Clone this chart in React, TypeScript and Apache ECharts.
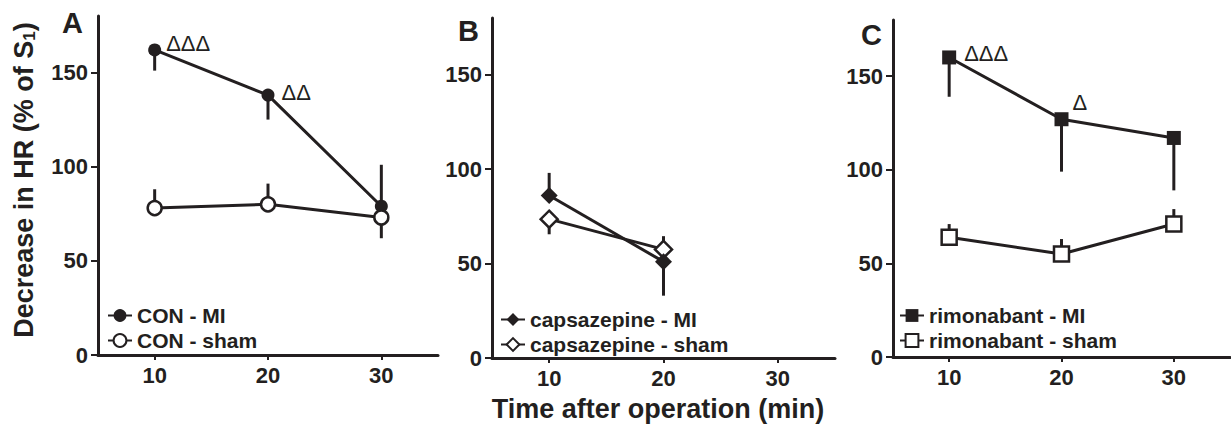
import React, { useEffect, useRef } from 'react';
import * as echarts from 'echarts';

// ---- data ----
const timePoints = [10, 20, 30];
const timePointsB = [10, 20];
const yTicks = [0, 50, 100, 150];
const xTicks = [10, 20, 30];

const conMI = [162, 138, 79];
const conMIErr = [11, 13, 22];
const conMIDir = [-1, -1, 1];
const conSham = [78, 80, 73];
const conShamErr = [10, 11, 11];
const conShamDir = [1, 1, -1];

const capMI = [86, 51];
const capMIErr = [12, 18];
const capMIDir = [1, -1];
const capSham = [73.5, 57.5];
const capShamErr = [8, 7];
const capShamDir = [-1, 1];

const rimMI = [160, 127, 117];
const rimMIErr = [21, 28, 28];
const rimMIDir = [-1, -1, -1];
const rimSham = [64, 55, 71];
const rimShamErr = [7, 8, 8];
const rimShamDir = [1, 1, 1];

const conMINotes = ['ΔΔΔ', 'ΔΔ', ''];
const rimMINotes = ['ΔΔΔ', 'Δ', ''];

const names = {
  conMI: 'CON - MI',
  conSham: 'CON - sham',
  capMI: 'capsazepine - MI',
  capSham: 'capsazepine - sham',
  rimMI: 'rimonabant - MI',
  rimSham: 'rimonabant - sham',
};

// ---- styling ----
const INK = '#231f20';
const FONT = '"Liberation Sans", Arial, sans-serif';
const conNoteOffsets: number[][] = [[0, -6], [2, -3], [0, 0]];
const rimNoteOffsets: number[][] = [[3, -4], [-1, -17], [0, 0]];

function lineSeries(
  name: string,
  xs: number[],
  ys: number[],
  idx: number,
  symbol: string,
  size: number,
  filled: boolean,
  notes?: string[],
  offsets?: number[][]
) {
  return {
    type: 'line',
    name,
    xAxisIndex: idx,
    yAxisIndex: idx,
    z: 3,
    symbol,
    symbolSize: size,
    showAllSymbol: true,
    lineStyle: { color: INK, width: 3 },
    itemStyle: filled
      ? { color: INK, borderColor: INK, borderWidth: 0 }
      : { color: '#ffffff', borderColor: INK, borderWidth: 2.5 },
    data: ys.map((v, i) => ({
      value: [xs[i], v],
      label:
        notes && notes[i]
          ? {
              show: true,
              formatter: notes[i],
              position: 'right',
              distance: 5,
              offset: offsets ? offsets[i] : [0, 0],
              color: INK,
              fontSize: 22,
              fontFamily: FONT,
              fontWeight: 'normal',
            }
          : { show: false },
    })),
  };
}

function errSeries(xs: number[], ys: number[], errs: number[], dirs: number[], idx: number) {
  return {
    type: 'custom',
    xAxisIndex: idx,
    yAxisIndex: idx,
    z: 1,
    silent: true,
    renderItem: (_p: any, api: any) => {
      const a = api.coord([api.value(0), api.value(1)]);
      const b = api.coord([api.value(0), api.value(2)]);
      return {
        type: 'line',
        shape: { x1: a[0], y1: a[1], x2: b[0], y2: b[1] },
        style: { stroke: INK, lineWidth: 3 },
      };
    },
    encode: { x: 0, y: [1, 2] },
    data: ys.map((v, i) => [xs[i], v, v + dirs[i] * errs[i]]),
  };
}

function xAxis(idx: number) {
  return {
    type: 'value',
    gridIndex: idx,
    min: 5,
    max: 35,
    axisLine: { show: true, lineStyle: { color: INK, width: 3 } },
    axisTick: { show: true, length: 5, lineStyle: { color: INK, width: 2 }, customValues: xTicks },
    axisLabel: {
      color: INK,
      fontSize: 22,
      fontWeight: 'bold',
      fontFamily: FONT,
      margin: 9,
      customValues: xTicks,
    },
    splitLine: { show: false },
  };
}

function yAxis(idx: number) {
  return {
    type: 'value',
    gridIndex: idx,
    min: 0,
    max: 180,
    axisLine: { show: true, lineStyle: { color: INK, width: 3 } },
    axisTick: { show: true, length: 7, lineStyle: { color: INK, width: 2 }, customValues: yTicks },
    axisLabel: {
      color: INK,
      fontSize: 22,
      fontWeight: 'bold',
      fontFamily: FONT,
      margin: 10,
      customValues: yTicks,
    },
    splitLine: { show: false },
  };
}

function legend(left: number, top: number, data: string[]) {
  return {
    orient: 'vertical',
    left,
    top,
    itemWidth: 24,
    itemHeight: 16,
    itemGap: 4,
    data,
    selectedMode: false,
    textStyle: { color: INK, fontSize: 21, fontWeight: 'bold', fontFamily: FONT, lineHeight: 21 },
  };
}

export default function App() {
  const ref = useRef<HTMLDivElement>(null);
  useEffect(() => {
    document.body.style.margin = '0';
    if (!ref.current) return;
    const chart = echarts.init(ref.current, undefined, { renderer: 'svg' });
    const option: any = {
      animation: false,
      backgroundColor: '#ffffff',
      grid: [
        { left: 98, top: 16, width: 340, height: 339 },
        { left: 492, top: 18, width: 343, height: 340 },
        { left: 893, top: 20, width: 337, height: 337 },
      ],
      xAxis: [xAxis(0), xAxis(1), xAxis(2)],
      yAxis: [yAxis(0), yAxis(1), yAxis(2)],
      legend: [
        legend(102, 300, [names.conMI, names.conSham]),
        legend(495, 304, [names.capMI, names.capSham]),
        legend(894, 300, [names.rimMI, names.rimSham]),
      ],
      graphic: [
        { type: 'text', x: 62, y: 23, style: { text: 'A', fill: INK, font: `bold 29px ${FONT}`, textAlign: 'left', textVerticalAlign: 'middle' } },
        { type: 'text', x: 458, y: 31, style: { text: 'B', fill: INK, font: `bold 29px ${FONT}`, textAlign: 'left', textVerticalAlign: 'middle' } },
        { type: 'text', x: 861, y: 35, style: { text: 'C', fill: INK, font: `bold 29px ${FONT}`, textAlign: 'left', textVerticalAlign: 'middle' } },
        {
          type: 'text',
          x: 24,
          y: 180,
          rotation: Math.PI / 2,
          style: {
            text: 'Decrease in HR (% of S{sub|1})',
            fill: INK,
            font: `bold 27px ${FONT}`,
            textAlign: 'center',
            textVerticalAlign: 'middle',
            rich: {
              sub: { fontSize: 17, fontWeight: 'bold', fontFamily: FONT, fill: INK, verticalAlign: 'bottom', padding: [8, 0, 0, 0] },
            },
          },
        },
        { type: 'text', x: 658, y: 409, style: { text: 'Time after operation (min)', fill: INK, font: `bold 27px ${FONT}`, textAlign: 'center', textVerticalAlign: 'middle' } },
      ],
      series: [
        errSeries(timePoints, conMI, conMIErr, conMIDir, 0),
        errSeries(timePoints, conSham, conShamErr, conShamDir, 0),
        lineSeries(names.conMI, timePoints, conMI, 0, 'circle', 13, true, conMINotes, conNoteOffsets),
        lineSeries(names.conSham, timePoints, conSham, 0, 'circle', 14, false),

        errSeries(timePointsB, capMI, capMIErr, capMIDir, 1),
        errSeries(timePointsB, capSham, capShamErr, capShamDir, 1),
        lineSeries(names.capSham, timePointsB, capSham, 1, 'diamond', 17, false),
        lineSeries(names.capMI, timePointsB, capMI, 1, 'diamond', 17, true),

        errSeries(timePoints, rimMI, rimMIErr, rimMIDir, 2),
        errSeries(timePoints, rimSham, rimShamErr, rimShamDir, 2),
        lineSeries(names.rimMI, timePoints, rimMI, 2, 'rect', 14, true, rimMINotes, rimNoteOffsets),
        lineSeries(names.rimSham, timePoints, rimSham, 2, 'rect', 15, false),
      ],
    };
    chart.setOption(option);
    return () => chart.dispose();
  }, []);
  return <div ref={ref} style={{ width: 1231, height: 434 }} />;
}
